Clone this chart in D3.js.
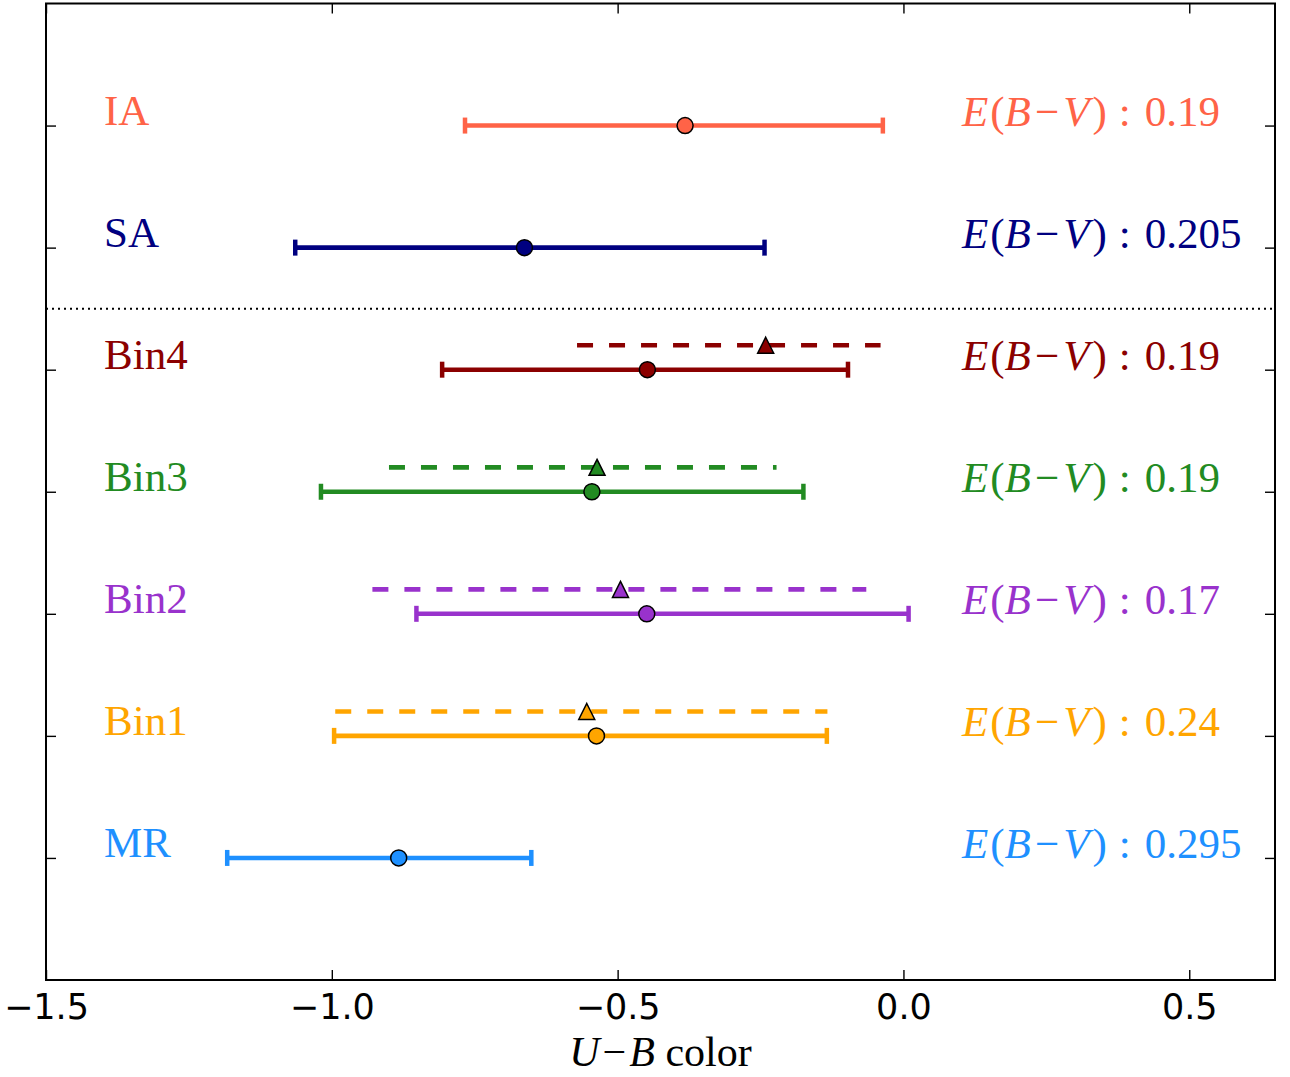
<!DOCTYPE html>
<html>
<head>
<meta charset="utf-8">
<script src="https://cdn.jsdelivr.net/npm/d3@7"></script>
<style>
  html, body { margin: 0; padding: 0; background: #fff; }
  svg { display: block; }
</style>
</head>
<body>
<svg id="chart" width="1290" height="1077"></svg>
<script>
// ---- data ----
const groups   = ["MR", "Bin1", "Bin2", "Bin3", "Bin4", "SA", "IA"];
const rowPos   = [1, 2, 3, 4, 5, 6, 7];
const colors   = ["#1E90FF", "#FFA500", "#9932CC", "#228B22", "#8B0000", "#000080", "#FF6347"];
const ebv      = ["0.295", "0.24", "0.17", "0.19", "0.19", "0.205", "0.19"];
const center   = [-0.883, -0.537, -0.449, -0.545, -0.448, -0.663, -0.382];
const lowEnd   = [-1.183, -0.996, -0.852, -1.019, -0.807, -1.064, -0.767];
const highEnd  = [-0.651, -0.134,  0.009, -0.175, -0.097, -0.243, -0.036];

// alternative (dashed) estimates for the bins
const altGroups = ["Bin1", "Bin2", "Bin3", "Bin4"];
const altCenter = [-0.554, -0.495, -0.536, -0.241];
const altLow    = [-0.994, -0.929, -0.900, -0.571];
const altHigh   = [-0.133, -0.065, -0.222, -0.040];
const altOffset = 0.2;

const xTicks = [-1.5, -1.0, -0.5, 0.0, 0.5];
const separatorY = 5.5;
const xLabel = ["U", "\u2212", "B", " color"];

// ---- layout ----
const svg = d3.select("#chart");
const L = 46, R = 1275, T = 3.5, B = 980;
const x = d3.scaleLinear().domain([-1.5, 0.65]).range([L, R]);
const y = d3.scaleLinear().domain([0, 8]).range([B, T]);

const serif = "'Liberation Serif', 'Times New Roman', serif";
const sans = "'DejaVu Sans', sans-serif";

// separator dotted line
svg.append("line")
  .attr("x1", L).attr("x2", R)
  .attr("y1", y(separatorY)).attr("y2", y(separatorY))
  .attr("stroke", "#000").attr("stroke-width", 2)
  .attr("stroke-dasharray", "2,4");

const rows = groups.map((g, i) => ({
  g, pos: rowPos[i], color: colors[i], ebv: ebv[i],
  c: center[i], lo: lowEnd[i], hi: highEnd[i]
}));
const alts = altGroups.map((g, i) => {
  const r = rows.find(d => d.g === g);
  return { g, pos: r.pos + altOffset, color: r.color, c: altCenter[i], lo: altLow[i], hi: altHigh[i] };
});

// dashed alt lines
svg.append("g").selectAll("line").data(alts).join("line")
  .attr("x1", d => x(d.lo)).attr("x2", d => x(d.hi))
  .attr("y1", d => y(d.pos)).attr("y2", d => y(d.pos))
  .attr("stroke", d => d.color).attr("stroke-width", 4.6)
  .attr("stroke-dasharray", "16,16");

// solid error bars
const eb = svg.append("g");
eb.selectAll("line.bar").data(rows).join("line").attr("class", "bar")
  .attr("x1", d => x(d.lo)).attr("x2", d => x(d.hi))
  .attr("y1", d => y(d.pos)).attr("y2", d => y(d.pos))
  .attr("stroke", d => d.color).attr("stroke-width", 4.6);
["lo", "hi"].forEach(k => {
  eb.selectAll("line.cap" + k).data(rows).join("line").attr("class", "cap" + k)
    .attr("x1", d => x(d[k])).attr("x2", d => x(d[k]))
    .attr("y1", d => y(d.pos) - 8).attr("y2", d => y(d.pos) + 8)
    .attr("stroke", d => d.color).attr("stroke-width", 4.5);
});

// markers
svg.append("g").selectAll("circle").data(rows).join("circle")
  .attr("cx", d => x(d.c)).attr("cy", d => y(d.pos)).attr("r", 8)
  .attr("fill", d => d.color).attr("stroke", "#000").attr("stroke-width", 1.5);
const tri = "M0,-8L8,8L-8,8Z";
svg.append("g").selectAll("path").data(alts).join("path")
  .attr("d", tri)
  .attr("transform", d => `translate(${x(d.c)},${y(d.pos)})`)
  .attr("fill", d => d.color).attr("stroke", "#000").attr("stroke-width", 1.5);

// left labels
svg.append("g").selectAll("text").data(rows).join("text")
  .attr("x", 104).attr("y", d => y(d.pos) - 1)
  .attr("fill", d => d.color)
  .style("font-family", serif).style("font-size", "43px")
  .text(d => d.g);

// right labels
const rl = svg.append("g").selectAll("text").data(rows).join("text")
  .attr("x", 962).attr("y", d => y(d.pos))
  .attr("fill", d => d.color)
  .style("font-family", serif).style("font-size", "43px");
rl.each(function(d) {
  const t = d3.select(this);
  t.append("tspan").style("font-style", "italic").text("E");
  t.append("tspan").attr("dx", 2).text("(");
  t.append("tspan").style("font-style", "italic").text("B");
  t.append("tspan").attr("dx", 4).text("\u2212");
  t.append("tspan").attr("dx", 4).style("font-style", "italic").text("V");
  t.append("tspan").attr("dx", 3).text(")");
  t.append("tspan").attr("dx", 12).text(":");
  t.append("tspan").attr("dx", 14).text(d.ebv);
});

// axes (ticks inward on all four sides)
const fmt = d3.format(".1f");
const gb = svg.append("g").attr("transform", `translate(0,${B})`)
  .call(d3.axisBottom(x).tickValues(xTicks).tickFormat(fmt).tickSize(-10).tickSizeOuter(0).tickPadding(14));
const gt = svg.append("g").attr("transform", `translate(0,${T})`)
  .call(d3.axisTop(x).tickValues(xTicks).tickFormat("").tickSize(-10).tickSizeOuter(0));
const gl = svg.append("g").attr("transform", `translate(${L},0)`)
  .call(d3.axisLeft(y).tickValues(rowPos).tickFormat("").tickSize(-10).tickSizeOuter(0));
const gr = svg.append("g").attr("transform", `translate(${R},0)`)
  .call(d3.axisRight(y).tickValues(rowPos).tickFormat("").tickSize(-10).tickSizeOuter(0));
[gb, gt, gl, gr].forEach(g => {
  g.select(".domain").remove();
  g.selectAll(".tick line").attr("stroke", "#000").attr("stroke-width", 1.4);
});
gb.selectAll(".tick text")
  .style("font-family", sans).style("font-size", "35px").attr("fill", "#000");

// frame
svg.append("rect")
  .attr("x", L).attr("y", T).attr("width", R - L).attr("height", B - T)
  .attr("fill", "none").attr("stroke", "#000").attr("stroke-width", 2);

// x axis label
const xl = svg.append("text")
  .attr("x", (L + R) / 2).attr("y", 1066)
  .attr("text-anchor", "middle")
  .style("font-family", serif).style("font-size", "42px").attr("fill", "#000");
xLabel.forEach((s, i) => {
  const ts = xl.append("tspan").text(s);
  if (i === 0 || i === 2) ts.style("font-style", "italic");
  if (i === 1 || i === 2) ts.attr("dx", 3);
});
</script>
</body>
</html>
